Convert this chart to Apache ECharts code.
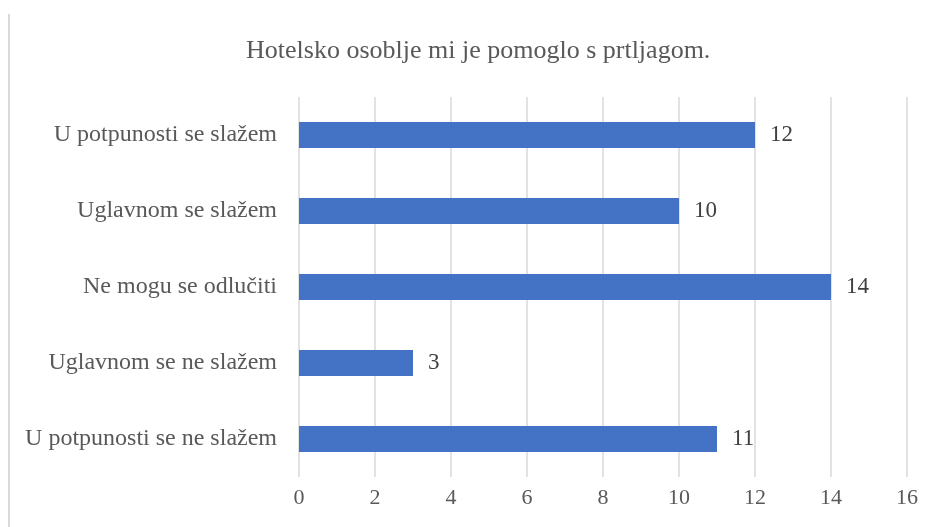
<!DOCTYPE html>
<html>
<head>
<meta charset="utf-8">
<script src="https://cdn.jsdelivr.net/npm/echarts@6/dist/echarts.min.js"></script>
<style>
  html, body { margin: 0; padding: 0; background: #fff; }
  #chart { width: 938px; height: 527px; }
</style>
</head>
<body>
<div id="chart"></div>
<script>
// kategorije odozgo prema dolje
const categories = [
  "U potpunosti se slažem",
  "Uglavnom se slažem",
  "Ne mogu se odlučiti",
  "Uglavnom se ne slažem",
  "U potpunosti se ne slažem"
];
const values = [12, 10, 14, 3, 11];

const serif = "'Liberation Serif', 'DejaVu Serif', serif";

const chart = echarts.init(document.getElementById("chart"));
chart.setOption({
  animation: false,
  textStyle: { fontFamily: serif },
  title: {
    text: "Hotelsko osoblje mi je pomoglo s prtljagom.",
    left: 241,
    top: 33,
    textStyle: { fontFamily: serif, fontSize: 26, fontWeight: "normal", color: "#595959" }
  },
  graphic: [{
    type: "line",
    shape: { x1: 9, y1: 14, x2: 9, y2: 527 },
    style: { stroke: "#d9d9d9", lineWidth: 2 }
  }],
  grid: { left: 299, right: 31, top: 97, bottom: 50 },
  xAxis: {
    type: "value",
    min: 0,
    max: 16,
    interval: 2,
    axisLine: { show: false },
    axisTick: { show: false },
    splitLine: { lineStyle: { color: "#d9d9d9", width: 1.5 } },
    axisLabel: { fontFamily: serif, fontSize: 22, color: "#595959", margin: 10 }
  },
  yAxis: {
    type: "category",
    data: categories,
    inverse: true,
    axisLine: { show: false },
    axisTick: { show: false },
    axisLabel: { fontFamily: serif, fontSize: 24, color: "#595959", margin: 22 }
  },
  series: [{
    type: "bar",
    data: values,
    barWidth: 26,
    itemStyle: { color: "#4472c4" },
    label: {
      show: true,
      position: "right",
      distance: 15,
      fontFamily: serif,
      fontSize: 23,
      color: "#404040"
    }
  }]
});
</script>
</body>
</html>
